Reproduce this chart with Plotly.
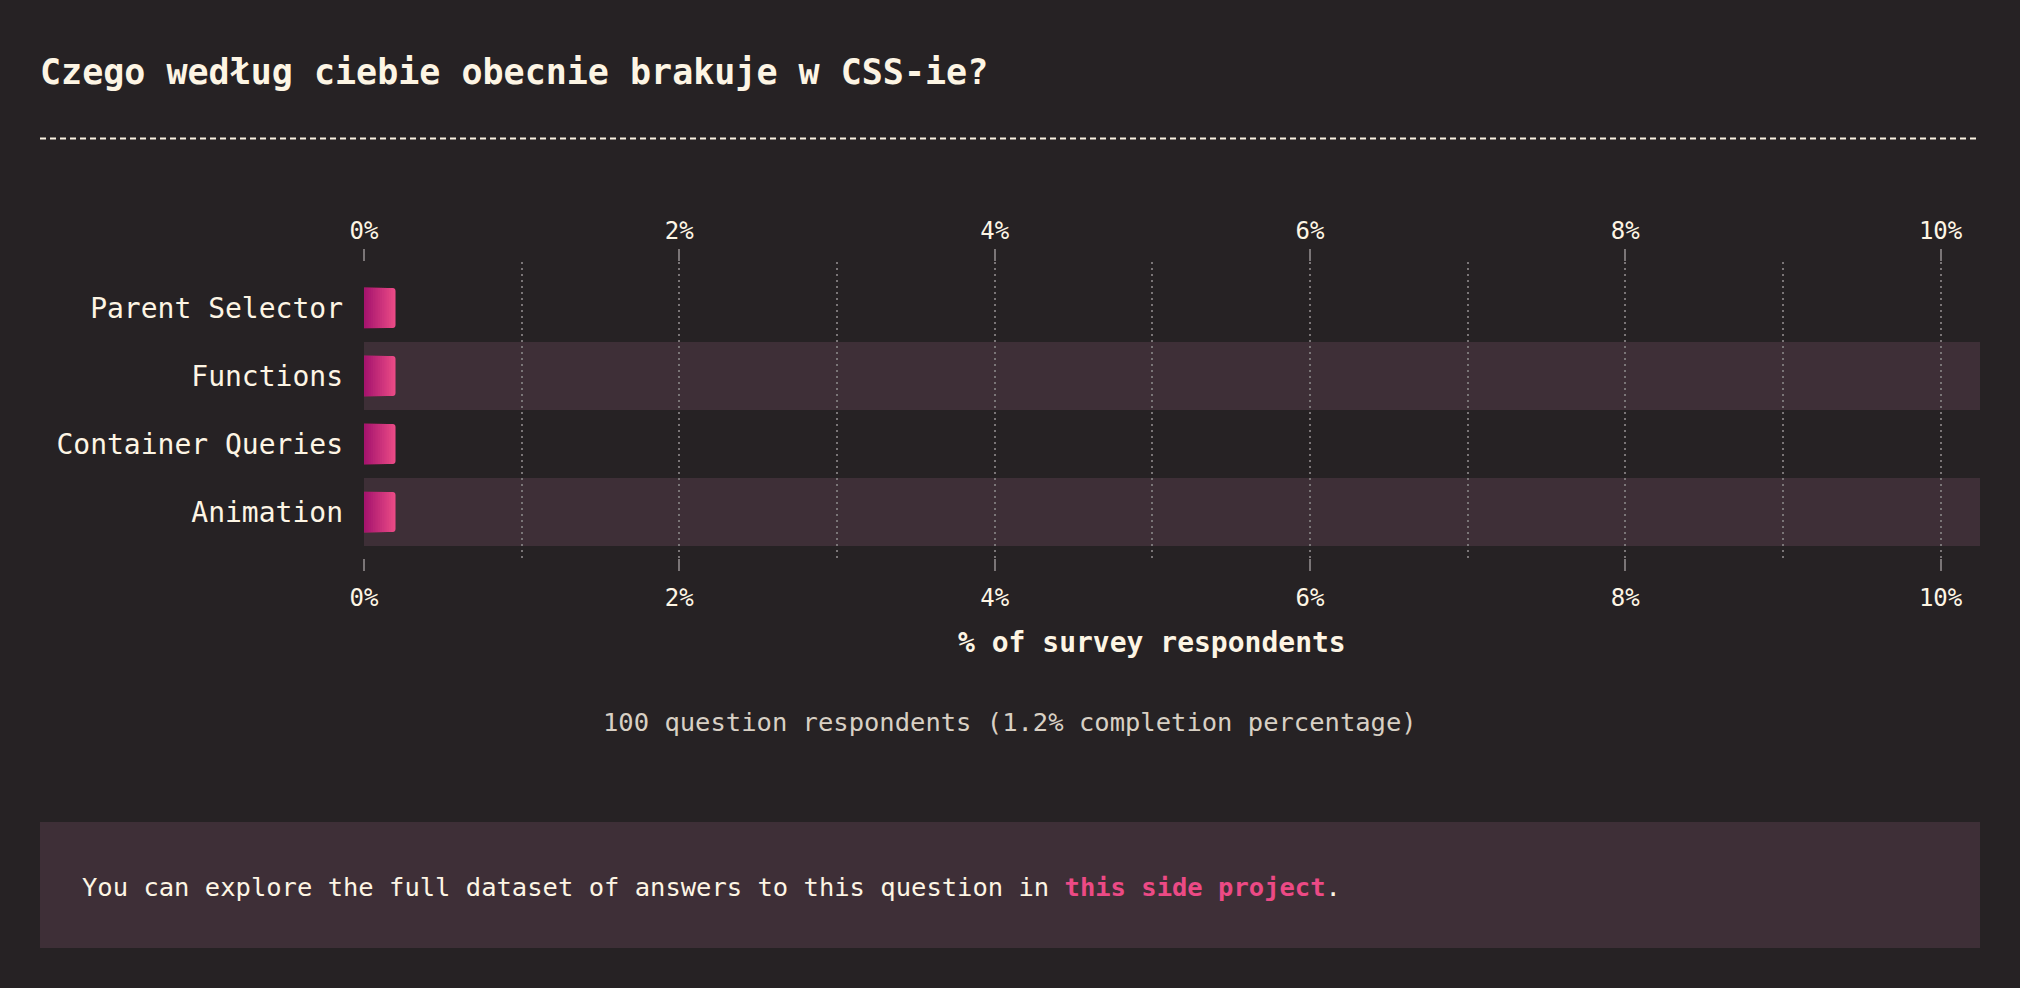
import plotly.graph_objects as go

# ---- data ----
categories = ["Parent Selector", "Functions", "Container Queries", "Animation"]
values = [0.2, 0.2, 0.2, 0.2]  # % of survey respondents
tick_vals = [0, 2, 4, 6, 8, 10]
tick_text = ["0%", "2%", "4%", "6%", "8%", "10%"]
title_text = "Czego według ciebie obecnie brakuje w CSS-ie?"
axis_title = "% of survey respondents"
note_text = "100 question respondents (1.2% completion percentage)"
footer_text = "You can explore the full dataset of answers to this question in "
footer_link = "this side project"

# ---- styles ----
BG = "#262224"
BAND = "#3e2f37"
CREAM = "#fdf5e4"
MUTED = "#d8d0c4"
GRID = "#7a7577"
PINK = "#ec4a85"
LEFT = (0xa3, 0x12, 0x6d)
RIGHT = (0xec, 0x4c, 0x87)
FONT = "DejaVu Sans Mono"

W, H = 2020, 988
ML, MR, MT, MB = 364, 40, 262, 430
PW = W - ML - MR
PH = H - MT - MB


def px_x(x):
    return (x - ML) / PW


def px_y(y):
    return (H - MB - y) / PH


fig = go.Figure()

# gradient bars: overlay progressively shorter bars
n = 14
for k in range(n, 0, -1):
    f = k / n
    t = (k - 0.5) / n
    c = tuple(round(LEFT[i] + (RIGHT[i] - LEFT[i]) * t) for i in range(3))
    marker = dict(color="rgb(%d,%d,%d)" % c, line=dict(width=0))
    if k == n:
        marker["cornerradius"] = 3
    fig.add_trace(go.Bar(
        y=categories, x=[v * f for v in values], orientation="h",
        marker=marker, width=0.59, hoverinfo="skip" if k != n else None,
        showlegend=False, xaxis="x", yaxis="y",
    ))

# invisible trace for bottom axis
fig.add_trace(go.Scatter(x=[0, 10], y=[categories[0], categories[0]], mode="markers",
                         marker=dict(opacity=0), xaxis="x2", yaxis="y",
                         showlegend=False, hoverinfo="skip"))

# alternate row bands
shapes = []
for i, cat in enumerate(categories):
    if i % 2 == 1:
        shapes.append(dict(type="rect", xref="paper", yref="y", x0=0, x1=1,
                           y0=i - 0.5, y1=i + 0.5, fillcolor=BAND,
                           line=dict(width=0), layer="below"))
# dashed separator under title
shapes.append(dict(type="line", xref="paper", yref="paper", x0=px_x(40), x1=px_x(1980),
                   y0=px_y(138.5), y1=px_y(138.5), line=dict(color=CREAM, width=2, dash="6px,4px")))
# footer box
shapes.append(dict(type="rect", xref="paper", yref="paper", x0=px_x(40), x1=px_x(1980),
                   y0=px_y(948), y1=px_y(822), fillcolor=BAND, line=dict(width=0), layer="below"))

xr = [0, 10.25]
axis_common = dict(
    range=xr, tickvals=tick_vals, ticktext=tick_text, showgrid=True,
    gridcolor=GRID, gridwidth=2, griddash="2px,4px",
    ticks="outside", ticklen=12, tickwidth=2, tickcolor=GRID,
    tickfont=dict(family=FONT, size=24, color=CREAM),
    zeroline=False, showline=False, fixedrange=True,
)

fig.update_layout(
    width=W, height=H,
    paper_bgcolor=BG, plot_bgcolor=BG,
    margin=dict(l=ML, r=MR, t=MT, b=MB, pad=0),
    barmode="overlay",
    shapes=shapes,
    title=dict(text="<b>" + title_text + "</b>", xref="container", yref="container",
               x=40 / W, xanchor="left", y=1 - 72 / H, yanchor="middle",
               font=dict(family=FONT, size=35, color=CREAM)),
    xaxis=dict(side="top", minor=dict(dtick=1, showgrid=True, gridcolor=GRID,
                                      gridwidth=2, griddash="2px,4px", ticks=""),
               ticklabelstandoff=0, **axis_common),
    xaxis2=dict(side="bottom", overlaying="x", matches="x", showgrid=False,
                ticklabelstandoff=6,
                **{k: v for k, v in axis_common.items() if k not in ("showgrid",)}),
    yaxis=dict(type="category", categoryorder="array", categoryarray=categories,
               range=[3.676, -0.676], showgrid=False, zeroline=False, ticks="",
               ticklabelstandoff=20,
               tickfont=dict(family=FONT, size=28, color=CREAM), fixedrange=True),
    annotations=[
        dict(text="<b>" + axis_title + "</b>", xref="x", yref="paper", x=5, y=px_y(642),
             xanchor="center", yanchor="middle", showarrow=False,
             font=dict(family=FONT, size=28, color=CREAM)),
        dict(text=note_text, xref="paper", yref="paper", x=px_x(1010), y=px_y(722),
             xanchor="center", yanchor="middle", showarrow=False,
             font=dict(family=FONT, size=25.5, color=MUTED)),
        dict(text=footer_text + "<b><span style='color:%s'>%s</span></b>." % (PINK, footer_link),
             xref="paper", yref="paper", x=px_x(80), y=px_y(887),
             xanchor="left", yanchor="middle", showarrow=False, align="left",
             font=dict(family=FONT, size=25.5, color=CREAM)),
    ],
)

fig.write_html(
    "out.html",
    config={"displayModeBar": False},
    post_script="document.body.style.margin='0';document.body.style.background='%s';"
                "document.documentElement.style.background='%s';"
                "document.body.style.overflow='hidden';" % (BG, BG),
)
